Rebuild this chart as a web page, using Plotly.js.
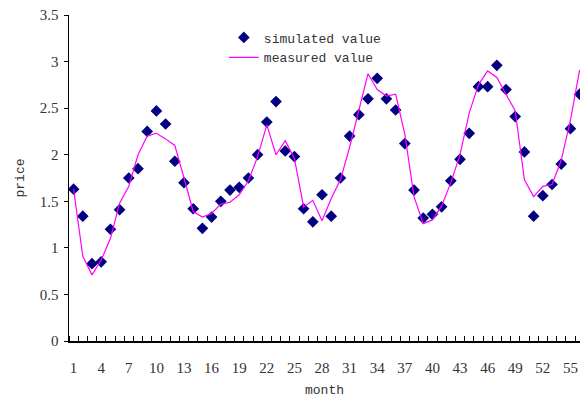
<!DOCTYPE html>
<html><head><meta charset="utf-8">
<script src="https://cdn.plot.ly/plotly-3.0.1.min.js"></script>
<style>html,body{margin:0;padding:0;background:#fff}#chart{width:580px;height:400px}</style>
</head><body><div id="chart"></div>
<script>
const months = Array.from({length:56},(_,i)=>i+1);
const simulated = [1.63,1.34,0.83,0.85,1.20,1.41,1.75,1.85,2.25,2.47,2.33,1.93,1.70,1.42,1.21,1.33,1.50,1.62,1.65,1.75,
  2.00,2.35,2.57,2.04,1.98,1.42,1.28,1.57,1.34,1.75,2.20,2.43,2.60,2.82,2.60,2.48,2.12,1.62,1.32,1.36,
  1.44,1.72,1.95,2.23,2.73,2.73,2.96,2.70,2.41,2.03,1.34,1.56,1.68,1.90,2.28,2.65];
const measured = [1.63,0.91,0.71,0.87,1.10,1.48,1.66,2.00,2.20,2.23,2.17,2.10,1.75,1.39,1.33,1.37,1.47,1.49,1.57,1.72,
  1.98,2.32,2.00,2.15,1.96,1.44,1.51,1.29,1.53,1.73,2.08,2.46,2.87,2.70,2.63,2.65,2.22,1.55,1.26,1.30,
  1.45,1.70,2.00,2.45,2.75,2.90,2.83,2.65,2.47,1.73,1.55,1.66,1.68,1.94,2.37,2.91];
const xTickVals = [1,4,7,10,13,16,19,22,25,28,31,34,37,40,43,46,49,52,55];
const xTickText = xTickVals.map(String);
const yTickVals = [0,0.5,1,1.5,2,2.5,3,3.5];
const yTickText = ['0','0.5','1','1.5','2','2.5','3','3.5'];

const fnt = {family:'"Liberation Mono", "DejaVu Sans Mono", monospace', size:13, color:'#333'};
const numFnt = {family:'"Liberation Serif", "DejaVu Serif", serif', size:15, color:'#333'};
const data = [
  {x:months, y:simulated, name:'simulated value', type:'scatter', mode:'markers',
   marker:{symbol:'diamond', color:'#000080', size:9}, cliponaxis:false},
  {x:months, y:measured, name:'measured value', type:'scatter', mode:'lines',
   line:{color:'#FF00FF', width:1.2}}
];
const layout = {
  width:580, height:400,
  margin:{l:69, r:0, t:15, b:59},
  paper_bgcolor:'#fff', plot_bgcolor:'#fff',
  font:fnt,
  showlegend:true,
  legend:{x:0.303, y:0.977, xanchor:'left', yanchor:'top', bgcolor:'rgba(0,0,0,0)', font:fnt, tracegroupgap:0},
  xaxis:{range:[0.5,56.04], tickmode:'array', tickvals:xTickVals, ticktext:xTickText, ticks:'',
    ticklabelstandoff:12,
    showline:true, linecolor:'#000', linewidth:1.5, showgrid:false, zeroline:false,
    minor:{tick0:0.5, dtick:1, ticks:'inside', ticklen:5, tickcolor:'#000', showgrid:false},
    tickfont:numFnt, title:{text:'month', font:fnt, standoff:10}},
  yaxis:{range:[0,3.5], tickmode:'array', tickvals:yTickVals, ticktext:yTickText, ticks:'outside', ticklen:4,
    ticklabelstandoff:2,
    tickcolor:'#000', showline:true, linecolor:'#000', linewidth:1.5, showgrid:false, zeroline:false,
    tickfont:numFnt, title:{text:'price', font:fnt, standoff:12}}
};
Plotly.newPlot('chart', data, layout, {displayModeBar:false, staticPlot:true});
</script></body></html>
